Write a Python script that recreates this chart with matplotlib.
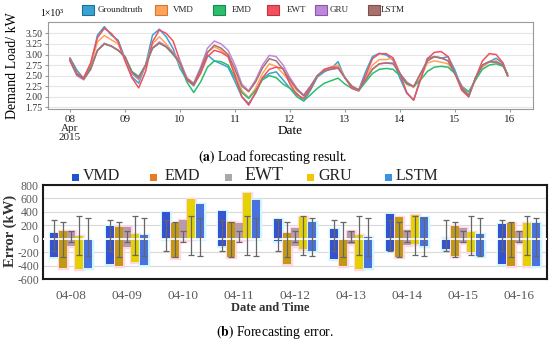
import matplotlib
matplotlib.use("Agg")
import matplotlib.pyplot as plt
from matplotlib.patches import Rectangle

plt.rcParams['font.family'] = ['Liberation Serif', 'DejaVu Serif']
plt.rcParams['mathtext.fontset'] = 'stix'

# ------------------------------
# (a) load forecasting, one value every 3 hours from 08 Apr 00:00 (x1000 kW)
# ------------------------------
hours = list(range(0, 190, 3)) + [191]

groundtruth = [
    2.92, 2.63, 2.43, 2.75, 3.46, 3.66, 3.46, 3.34,   # 08
    2.91, 2.47, 2.32, 2.75, 3.46, 3.60, 3.42, 3.14,   # 09
    2.67, 2.40, 2.26, 2.59, 2.99, 2.85, 2.78, 2.70,   # 10
    2.36, 2.00, 1.84, 2.08, 2.43, 2.55, 2.59, 2.40,   # 11
    2.20, 2.08, 1.90, 2.16, 2.47, 2.59, 2.67, 2.83,   # 12
    2.44, 2.24, 2.16, 2.59, 2.95, 3.03, 2.99, 2.87,   # 13
    2.44, 2.08, 1.92, 2.44, 2.91, 2.95, 2.91, 2.95,   # 14
    2.63, 2.20, 2.00, 2.44, 2.75, 2.83, 2.91, 2.79,   # 15
    2.51]
vmd = [
    2.88, 2.55, 2.45, 2.75, 3.30, 3.45, 3.35, 3.25,
    2.90, 2.55, 2.40, 2.75, 3.25, 3.42, 3.25, 3.05,
    2.75, 2.45, 2.30, 2.65, 3.05, 3.18, 3.10, 2.95,
    2.55, 2.15, 1.98, 2.20, 2.55, 2.78, 2.72, 2.55,
    2.35, 2.15, 2.04, 2.25, 2.50, 2.65, 2.70, 2.75,
    2.45, 2.25, 2.16, 2.45, 2.75, 2.88, 2.88, 2.92,
    2.55, 2.30, 2.22, 2.45, 2.80, 2.85, 2.82, 2.78,
    2.55, 2.25, 2.05, 2.40, 2.70, 2.82, 2.85, 2.75,
    2.50]
emd = [
    2.88, 2.55, 2.45, 2.70, 3.10, 3.25, 3.20, 3.10,
    2.95, 2.60, 2.48, 2.75, 3.15, 3.27, 3.18, 3.00,
    2.80, 2.35, 2.10, 2.35, 2.70, 2.85, 2.83, 2.75,
    2.45, 2.10, 1.96, 2.15, 2.40, 2.50, 2.45, 2.30,
    2.20, 2.00, 1.90, 2.05, 2.20, 2.32, 2.38, 2.44,
    2.30, 2.20, 2.14, 2.35, 2.55, 2.65, 2.67, 2.65,
    2.50, 2.30, 2.25, 2.40, 2.60, 2.70, 2.72, 2.70,
    2.55, 2.25, 2.12, 2.40, 2.65, 2.75, 2.78, 2.72,
    2.55]
ewt = [
    2.90, 2.55, 2.45, 2.80, 3.40, 3.62, 3.50, 3.30,
    2.85, 2.45, 2.21, 2.60, 3.30, 3.58, 3.50, 3.32,
    2.85, 2.40, 2.28, 2.55, 2.95, 3.10, 3.05, 2.95,
    2.50, 2.00, 1.80, 2.10, 2.45, 2.65, 2.70, 2.67,
    2.30, 2.05, 1.96, 2.20, 2.50, 2.65, 2.70, 2.70,
    2.45, 2.20, 2.14, 2.50, 2.90, 3.02, 3.02, 2.92,
    2.55, 2.10, 1.92, 2.40, 2.90, 3.05, 3.07, 2.95,
    2.55, 2.15, 2.00, 2.45, 2.85, 3.02, 3.00, 2.80,
    2.50]
gru = [
    2.85, 2.50, 2.40, 2.65, 3.10, 3.27, 3.20, 3.10,
    2.95, 2.55, 2.42, 2.75, 3.15, 3.30, 3.20, 3.05,
    2.85, 2.45, 2.32, 2.70, 3.15, 3.32, 3.25, 3.10,
    2.75, 2.30, 2.14, 2.40, 2.75, 2.98, 2.95, 2.75,
    2.45, 2.20, 2.04, 2.25, 2.50, 2.62, 2.65, 2.68,
    2.45, 2.25, 2.16, 2.40, 2.65, 2.78, 2.80, 2.80,
    2.55, 2.35, 2.24, 2.55, 2.85, 2.95, 2.92, 2.85,
    2.55, 2.25, 2.04, 2.45, 2.75, 2.83, 2.82, 2.75,
    2.50]
lstm = [
    2.85, 2.52, 2.42, 2.65, 3.10, 3.25, 3.20, 3.10,
    2.95, 2.58, 2.45, 2.75, 3.15, 3.27, 3.18, 3.02,
    2.80, 2.42, 2.30, 2.65, 3.05, 3.22, 3.15, 3.00,
    2.65, 2.25, 2.12, 2.35, 2.68, 2.90, 2.85, 2.65,
    2.40, 2.18, 2.02, 2.25, 2.50, 2.62, 2.65, 2.68,
    2.45, 2.25, 2.16, 2.40, 2.65, 2.78, 2.80, 2.78,
    2.55, 2.32, 2.24, 2.55, 2.85, 2.95, 2.92, 2.85,
    2.55, 2.22, 2.02, 2.45, 2.75, 2.83, 2.82, 2.75,
    2.50]

line_names = ["Groundtruth", "VMD", "EMD", "EWT", "GRU", "LSTM"]
day_ticks = [8, 9, 10, 11, 12, 13, 14, 15, 16]
day_labels = ["08\nApr\n2015", "09", "10", "11", "12", "13", "14", "15", "16"]

# ------------------------------
# (b) forecasting error per day (kW): floating bars + error whiskers
# ------------------------------
dates = ["04-08", "04-09", "04-10", "04-11", "04-12", "04-13", "04-14", "04-15", "04-16"]
bar_names = ["VMD", "EMD", "EWT", "GRU", "LSTM"]
vmd_lo = [-265, -380, 0, -115, -40, -296, -181, -160, -372]
vmd_hi = [90, 190, 400, 420, 300, 140, 372, 15, 225]
emd_lo = [-440, -410, -280, -270, -370, -400, -276, -263, -412]
emd_hi = [120, 180, 235, 250, 90, 0, 316, 188, 240]
ewt_lo = [-110, -120, -20, -20, -110, -85, -100, -60, -70]
ewt_hi = [120, 175, 275, 235, 160, 115, 125, 165, 115]
gru_lo = [-450, -340, 0, 0, -155, -452, -85, -200, -402]
gru_hi = [40, 70, 590, 680, 318, 50, 352, 100, 240]
lstm_lo = [-430, -390, 0, 0, -188, -437, -115, -250, -402]
lstm_hi = [0, 60, 520, 575, 242, 30, 316, 65, 240]
err_low = [-176, -271, -50, -236, -250]
err_high = [276, 251, 120, 345, 315]

# ------------------------------
# figure
# ------------------------------
W, H = 550, 342
fig = plt.figure(figsize=(5.5, 3.42), dpi=100)

def fx(px):
    return px / W

def fy(py):
    return 1 - py / H

# --- top panel ---
ax1 = fig.add_axes([fx(48), fy(109), fx(533) - fx(48), fy(22) - fy(109)])
line_colors = ["#3AA2D2", "#FFA35C", "#2DBD6E", "#F2505E", "#BE88DA", "#A8726C"]
patch_edges = ["#1E6F98", "#D07A30", "#178A4E", "#C03040", "#8A55AA", "#7E4E4A"]
t = [8 + h / 24 for h in hours]
for vals, c in zip([groundtruth, vmd, emd, ewt, gru, lstm], line_colors):
    ax1.plot(t, vals, color=c, lw=1.1, solid_joinstyle="round")

ax1.set_xlim(7.6, 16.42)
ax1.set_ylim(1.71, 3.77)
ax1.set_yticks([1.75, 2.0, 2.25, 2.5, 2.75, 3.0, 3.25, 3.5])
ax1.set_yticklabels([f"{v:.2f}" for v in ax1.get_yticks()], fontsize=7, color="#333333")
ax1.set_xticks(day_ticks)
ax1.set_xticklabels(day_labels, fontsize=8, color="#222222", linespacing=1.0)
ax1.tick_params(length=2.5, color="#999999", width=0.8, pad=1.5)
ax1.grid(axis="y", color="#e6e6e6", lw=0.8)
ax1.set_axisbelow(True)
for s in ax1.spines.values():
    s.set_color("#9a9a9a")
    s.set_linewidth(0.8)
fig.text(fx(13), fy(66), "Demand Load/ kW", rotation=90, ha="center", va="center", fontsize=10)
fig.text(fx(40), fy(14), "1×10³", ha="left", va="center", fontsize=7)
fig.text(fx(290), fy(131), "Date", ha="center", va="center", fontsize=9.5)

# top legend (patches drawn by hand to follow the original spacing)
leg_patch_x = [82, 155, 213, 267, 315, 368]
leg_text_x = [98, 173, 232, 287, 330, 381]
for name, c, ec, px, tx in zip(line_names, line_colors, patch_edges, leg_patch_x, leg_text_x):
    fig.patches.append(Rectangle((fx(px), fy(15)), fx(12), 10 / H, transform=fig.transFigure,
                                 facecolor=c, edgecolor=ec, lw=0.8))
    fig.text(fx(tx), fy(10), name, ha="left", va="center", fontsize=6.5, color="#222222")

fig.text(fx(273), fy(157), r"$\mathbf{(a)}$ Load forecasting result.", ha="center", va="center",
         fontsize=9.8)

# --- bottom panel ---
ax2 = fig.add_axes([fx(43), fy(279), fx(547) - fx(43), fy(185) - fy(279)])
bar_colors = ["#3552D2", "#C29A12", "#B99AAA", "#E6D200", "#4A72DE"]
halo_colors = ["#CFF6FF", "#FFD6EA", "#FFD6EA", "#FFD6EA", "#CFF6FF"]
legend_colors = ["#2152CF", "#E97A22", "#A9A9A9", "#F5C600", "#3A92E2"]
lows = [vmd_lo, emd_lo, ewt_lo, gru_lo, lstm_lo]
highs = [vmd_hi, emd_hi, ewt_hi, gru_hi, lstm_hi]
width = 0.145
x = list(range(len(dates)))
for i in range(len(bar_names)):
    xs = [g + (i - 2) * 0.148 for g in x]
    heights = [hi - lo for lo, hi in zip(lows[i], highs[i])]
    ax2.bar(xs, heights, width=width, bottom=lows[i], color=halo_colors[i],
            edgecolor=halo_colors[i], lw=2.5, zorder=2)
    ax2.bar(xs, heights, width=width, bottom=lows[i], color=bar_colors[i], lw=0, zorder=3)
    ax2.errorbar(xs, [0] * len(xs), yerr=[[-err_low[i]] * len(xs), [err_high[i]] * len(xs)],
                 fmt="none", ecolor="#666666", elinewidth=0.9, capsize=2.5, capthick=0.9, zorder=5)
ax2.axhline(0, color="white", lw=1.3, zorder=4)

ax2.set_xlim(-0.5, 8.5)
ax2.set_ylim(-600, 800)
ax2.set_yticks(range(-600, 801, 200))
ax2.set_yticklabels([str(v) for v in range(-600, 801, 200)], fontsize=8.5, color="#5a5a5a")
ax2.set_xticks(x)
ax2.set_xticklabels(dates, fontsize=9.5, color="#5a5a5a")
ax2.tick_params(length=0, pad=8)
ax2.tick_params(axis="y", pad=3)
ax2.grid(axis="y", color="#d9d9d9", lw=0.8)
ax2.set_axisbelow(True)
for s in ax2.spines.values():
    s.set_color("#1a1a1a")
    s.set_linewidth(1.5)
fig.text(fx(10), fy(231), "Error (kW)", rotation=90, ha="center", va="center", fontsize=10.5,
         fontweight="bold", color="#333333")
fig.text(fx(270), fy(308), "Date and Time", ha="center", va="center", fontsize=9,
         fontweight="bold", color="#333333")

# bottom legend
leg2_mark_x = [72, 150, 225, 307, 385]
leg2_text_x = [83, 165, 245, 318, 396]
leg2_size = [11.5, 11.5, 13, 11.5, 11.5]
for name, c, mx, tx, fs in zip(bar_names, legend_colors, leg2_mark_x, leg2_text_x, leg2_size):
    fig.patches.append(Rectangle((fx(mx), fy(181)), fx(7), 7 / H, transform=fig.transFigure,
                                 facecolor=c, lw=0))
    fig.text(fx(tx), fy(176), name, ha="left", va="center", fontsize=fs, color="#222222")

fig.text(fx(275), fy(332), r"$\mathbf{(b)}$ Forecasting error.", ha="center", va="center",
         fontsize=9.8)

fig.savefig("out.png", dpi=100)
